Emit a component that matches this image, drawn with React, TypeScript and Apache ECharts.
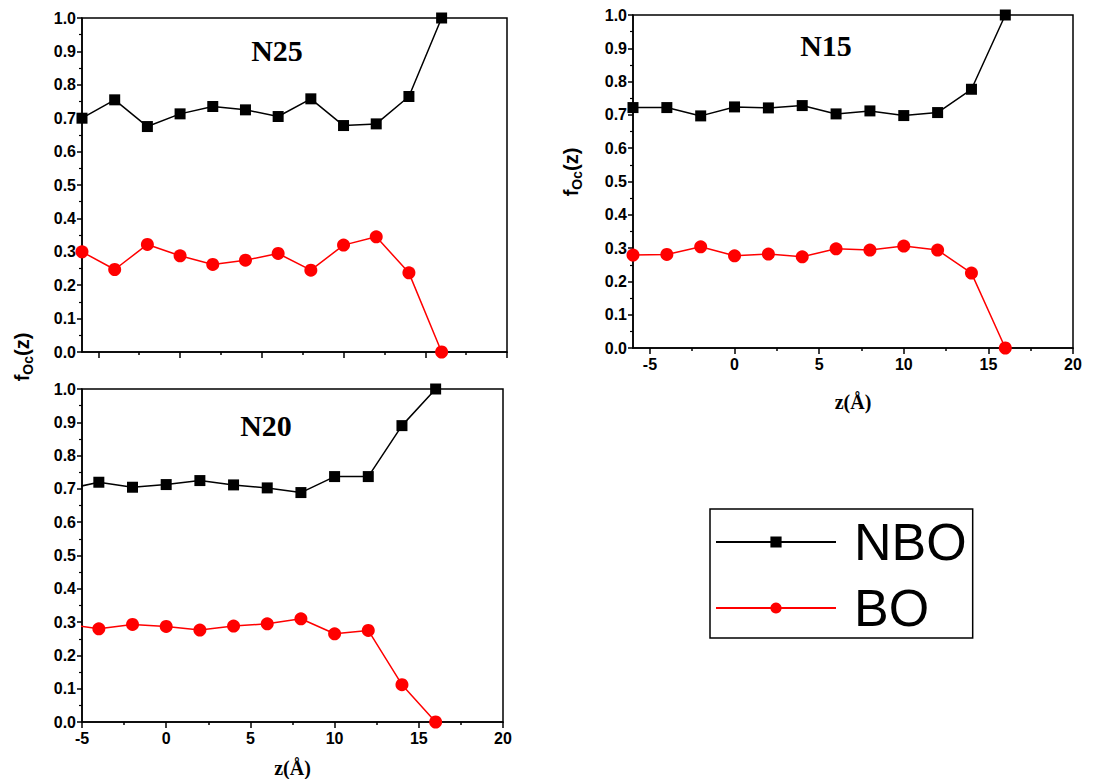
import React, { useEffect, useRef } from "react";
import * as echarts from "echarts";

const zValues = [-6, -4, -2, 0, 2, 4, 6, 8, 10, 12, 14, 16];

const n25NBO = [0.70, 0.755, 0.675, 0.713, 0.735, 0.725, 0.705, 0.758, 0.678, 0.683, 0.765, 1.0];
const n25BO = [0.30, 0.247, 0.322, 0.288, 0.262, 0.275, 0.295, 0.245, 0.32, 0.345, 0.237, 0.0];
const n15NBO = [0.722, 0.722, 0.697, 0.724, 0.721, 0.728, 0.703, 0.712, 0.698, 0.707, 0.777, 1.0];
const n15BO = [0.279, 0.281, 0.304, 0.277, 0.282, 0.274, 0.298, 0.294, 0.306, 0.294, 0.225, 0.0];
const n20NBO = [0.698, 0.72, 0.705, 0.713, 0.725, 0.712, 0.703, 0.689, 0.737, 0.737, 0.89, 1.0];
const n20BO = [0.294, 0.28, 0.293, 0.287, 0.276, 0.288, 0.295, 0.31, 0.265, 0.275, 0.112, 0.0];

const panelNames = ["N25", "N15", "N20"];
const xMins = [-6, -6, -5];
const xMax = 20;
const xMajorTicks = [-5, 0, 5, 10, 15, 20];
const xMinorTicks = [-2.5, 2.5, 7.5, 12.5, 17.5];
const seriesNames = ["NBO", "BO"];
const xTitle = "z(Å)";

const pair = (ys: number[]) => zValues.map((z, i) => [z, ys[i]]);

const SANS = "'Liberation Sans', Arial, sans-serif";
const SERIF = "'Liberation Serif', 'Times New Roman', serif";

export default function App() {
  const ref = useRef<HTMLDivElement>(null);

  useEffect(() => {
    if (!ref.current) return;
    const chart = echarts.init(ref.current, undefined, { renderer: "svg" });

    const grids = [
      { left: 82, top: 18, width: 425, height: 334 },
      { left: 633, top: 15, width: 440, height: 333 },
      { left: 82, top: 389, width: 421, height: 333 },
    ].map((g) => ({ ...g, show: true, borderColor: "#000", borderWidth: 1.5, backgroundColor: "transparent" }));

    const showLabels = [false, true, true];
    const nameGaps = [0, 44, 36];

    const xAxes: any[] = [];
    grids.forEach((_, gi) => {
      xAxes.push({
        type: "value",
        gridIndex: gi,
        position: "bottom",
        min: xMins[gi],
        max: xMax,
        splitLine: { show: false },
        axisLine: { show: true, onZero: false, lineStyle: { color: "#000", width: 1.5 } },
        axisTick: { show: true, length: 6, customValues: xMajorTicks, lineStyle: { color: "#000", width: 1.5 } },
        axisLabel: {
          show: showLabels[gi],
          customValues: xMajorTicks,
          color: "#000",
          fontFamily: SANS,
          fontWeight: "bold",
          fontSize: 16,
          margin: 8,
        },
        name: showLabels[gi] ? xTitle : "",
        nameLocation: "middle",
        nameGap: nameGaps[gi],
        nameTextStyle: { fontFamily: SERIF, fontWeight: "bold", fontSize: 20, color: "#000" },
      });
      xAxes.push({
        type: "value",
        gridIndex: gi,
        position: "bottom",
        min: xMins[gi],
        max: xMax,
        splitLine: { show: false },
        axisLine: { show: false, onZero: false },
        axisTick: { show: true, length: 3, customValues: xMinorTicks, lineStyle: { color: "#000", width: 1.5 } },
        axisLabel: { show: false, customValues: xMinorTicks },
      });
    });

    const yAxes = grids.map((_, gi) => ({
      type: "value",
      gridIndex: gi,
      min: 0,
      max: 1,
      interval: 0.1,
      splitLine: { show: false },
      axisLine: { show: true, onZero: false, lineStyle: { color: "#000", width: 1.5 } },
      axisTick: { show: true, length: 5, lineStyle: { color: "#000", width: 1.5 } },
      minorTick: { show: true, splitNumber: 2, length: 3, lineStyle: { color: "#000", width: 1.2 } },
      minorSplitLine: { show: false },
      axisLabel: {
        color: "#000",
        fontFamily: SANS,
        fontWeight: "bold",
        fontSize: 16,
        margin: 6,
        formatter: (v: number) => v.toFixed(1),
      },
    }));

    const panelData = [
      [n25NBO, n25BO],
      [n15NBO, n15BO],
      [n20NBO, n20BO],
    ];

    const series: any[] = [];
    panelData.forEach((pd, gi) => {
      series.push({
        type: "line",
        name: seriesNames[0],
        xAxisIndex: gi * 2,
        yAxisIndex: gi,
        data: pair(pd[0]),
        symbol: "rect",
        symbolSize: 11,
        color: "#000",
        itemStyle: { color: "#000" },
        lineStyle: { color: "#000", width: 1.5 },
        clip: true,
      });
      series.push({
        type: "line",
        name: seriesNames[1],
        xAxisIndex: gi * 2,
        yAxisIndex: gi,
        data: pair(pd[1]),
        symbol: "circle",
        symbolSize: 13,
        color: "#ff0000",
        itemStyle: { color: "#ff0000" },
        lineStyle: { color: "#ff0000", width: 1.5 },
        clip: true,
      });
    });

    const titlePos = [
      [277, 50],
      [826, 45],
      [266, 425],
    ];

    const yTitle = (x: number, y: number) => ({
      type: "text",
      x,
      y,
      rotation: Math.PI / 2,
      style: {
        text: "{m|f}{s|Oc}{m|(z)}",
        align: "center",
        verticalAlign: "middle",
        fill: "#000",
        rich: {
          m: { fontFamily: SANS, fontWeight: "bold", fontSize: 20, lineHeight: 26, fill: "#000" },
          s: { fontFamily: SANS, fontWeight: "bold", fontSize: 14, verticalAlign: "bottom", fill: "#000" },
        },
      },
    });

    const graphic: any[] = [
      ...panelNames.map((t, i) => ({
        type: "text",
        x: titlePos[i][0],
        y: titlePos[i][1],
        style: {
          text: t,
          align: "center",
          verticalAlign: "middle",
          font: `bold 30px ${SERIF}`,
          fill: "#000",
        },
      })),
      yTitle(22, 357),
      yTitle(571, 172),
    ];

    chart.setOption({
      animation: false,
      backgroundColor: "#fff",
      grid: grids,
      xAxis: xAxes,
      yAxis: yAxes,
      series,
      graphic,
      legend: {
        orient: "vertical",
        left: 710,
        top: 509,
        data: seriesNames,
        itemWidth: 120,
        itemHeight: 14,
        itemGap: 14,
        padding: [7, 6, 4, 5],
        borderColor: "#000",
        borderWidth: 1.5,
        selectedMode: false,
        textStyle: { fontSize: 52, fontFamily: SANS, color: "#000", padding: [0, 0, 0, 13] },
      },
    });

    return () => chart.dispose();
  }, []);

  return (
    <div
      ref={ref}
      style={{ position: "absolute", left: 0, top: 0, width: 1094, height: 779 }}
    />
  );
}
